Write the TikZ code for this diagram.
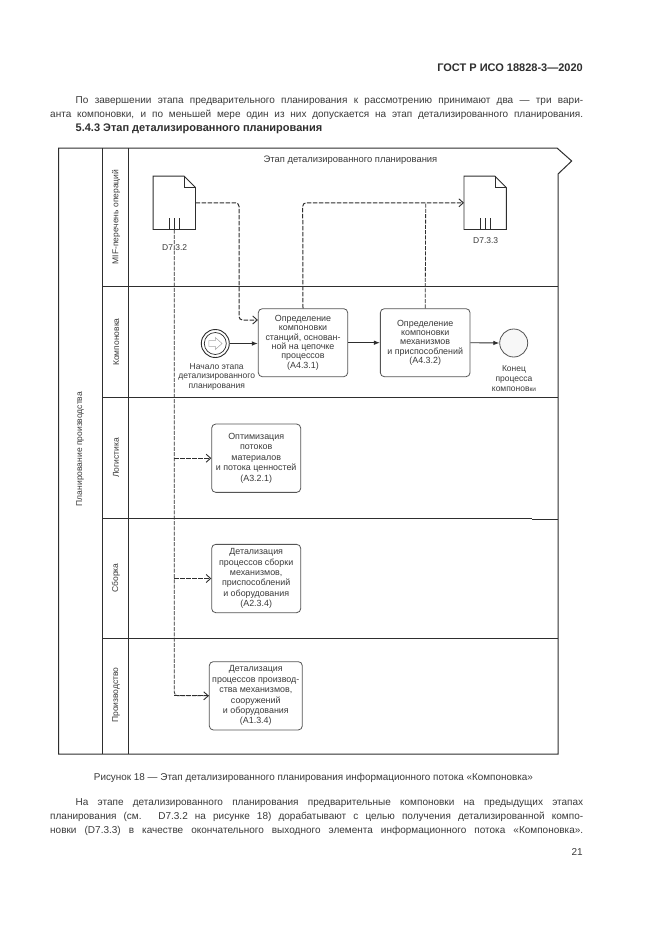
\documentclass[tikz,border=0pt]{standalone}
\usepackage{fontspec}
\setmainfont{Liberation Sans}
\usetikzlibrary{arrows.meta}
\definecolor{ink}{HTML}{2E2E2E}
\definecolor{txt}{HTML}{3A3A3A}
\definecolor{boxline}{HTML}{555555}
\tikzset{
  bodytext/.style={inner sep=0pt,anchor=base west,text=txt,font=\fontsize{10}{11}\selectfont},
  headtext/.style={inner sep=0pt,anchor=base west,text=ink,font=\fontsize{11}{12}\selectfont\bfseries},
  lab/.style={inner sep=0pt,align=center,text=txt,font=\fontsize{8.5}{9.7}\selectfont},
  lanetitle/.style={lab,rotate=90},
  taskbox/.style={draw=boxline,line width=0.8pt,rounded corners=4pt,fill=white,inner sep=0pt,align=center,text=txt,font=\fontsize{8.9}{10.4}\selectfont},
  tasktight/.style={taskbox,font=\fontsize{8.9}{9.4}\selectfont,execute at begin node=\rule{0pt}{12pt}},
  tasklow/.style={taskbox,execute at begin node=\rule{0pt}{11.5pt}},
  docbox/.style={inner sep=0pt,minimum width=42pt,minimum height=53pt},
  docline/.style={draw=ink,line width=0.9pt,fill=white},
  frameline/.style={draw=ink,line width=1pt},
  lanerule/.style={draw=ink,line width=0.9pt},
  flow/.style={draw=ink,line width=1pt,dash pattern=on 4.5pt off 1.5pt,rounded corners=3.5pt,-{Straight Barb[length=4.5pt,width=8pt,line width=0.9pt]}},
  trunk/.style={draw=ink,line width=0.8pt,dash pattern=on 4pt off 1.3pt,rounded corners=3.5pt},
  seq/.style={draw=ink,line width=0.9pt,-{Latex[length=6pt,width=4.5pt]}},
}
\begin{document}
\begin{tikzpicture}[x=1pt,y=-1pt]
\useasboundingbox (0,0) rectangle (661,935);
\fill[white] (0,0) rectangle (661,935);
% page text
\node[headtext,anchor=base east] (hdr) at (583,71) {ГОСТ Р ИСО 18828-3—2020};
\node[bodytext] (p1a) at (75.5,103.3) {\makebox[507.5pt][s]{По завершении этапа предварительного планирования к рассмотрению принимают два — три вари-}};
\node[bodytext] (p1b) at (50,117.3) {\makebox[533pt][s]{анта компоновки, и по меньшей мере один из них допускается на этап детализированного планирования.}};
\node[headtext] (sec) at (75.5,131.5) {5.4.3 Этап детализированного планирования};
\node[bodytext,font=\fontsize{9.9}{11}\selectfont] (cap) at (93.7,780) {Рисунок 18 — Этап детализированного планирования информационного потока «Компоновка»};
\node[bodytext] (p2a) at (75.5,805.5) {\makebox[507.5pt][s]{На этапе детализированного планирования предварительные компоновки на предыдущих этапах}};
\node[bodytext] (p2b) at (50,819.5) {\makebox[533pt][s]{планирования (см. D7.3.2 на рисунке 18) дорабатывают с целью получения детализированной компо-}};
\node[bodytext] (p2c) at (50,833.5) {\makebox[533pt][s]{новки (D7.3.3) в качестве окончательного выходного элемента информационного потока «Компоновка».}};
\node[bodytext,anchor=base east] (pg) at (583,855.5) {21};
% pool
\draw[frameline,line join=miter] (58.5,148) -- (557,148) -- (571.7,161) -- (558,174) -- (558,754) -- (58.5,754) -- cycle;
\draw[frameline] (102.7,148) -- (102.7,754);
\draw[frameline,line width=1.4pt] (128.7,148) -- (128.7,754);
\draw[lanerule] (102.7,286.3) -- (558,286.3);
\draw[lanerule] (102.7,397) -- (532,397);
\draw[lanerule] (532,397.6) -- (558,397.6);
\draw[lanerule] (102.7,518.8) -- (532,518.8);
\draw[lanerule] (532,519.6) -- (558,519.6);
\draw[lanerule] (102.7,638) -- (558,638);
% titles
\node[lanetitle] (pooltitle) at (80,449) {Планирование производства};
\node[lanetitle] (l1) at (116,217) {MIF-перечень операций};
\node[lanetitle] (l2) at (116.3,342) {Компоновка};
\node[lanetitle] (l3) at (116,458) {Логистика};
\node[lanetitle] (l4) at (116,578) {Сборка};
\node[lanetitle] (l5) at (116,695) {Производство};
\node[lab,font=\fontsize{9.4}{10}\selectfont] (stage) at (350.5,160) {Этап детализированного планирования};
% documents
\node[docbox] (d1) at (174.3,202.8) {};
\node[docbox] (d2) at (485.2,202.8) {};
\foreach \d in {d1,d2}{
  \draw[docline,line join=miter] (\d.south west) -- (\d.north west) -- ([xshift=-11.5pt]\d.north east) -- ([yshift=-11.5pt]\d.north east) -- (\d.south east) -- cycle;
  \draw[docline,fill=none,line width=0.7pt] ([xshift=-11.5pt]\d.north east) -- ([xshift=-11.5pt,yshift=-11.5pt]\d.north east) -- ([yshift=-11.5pt]\d.north east);
  \foreach \s in {-5,0,5}
    \draw[draw=ink,line width=0.8pt] ([xshift=\s pt]\d.south) -- ([xshift=\s pt,yshift=12pt]\d.south);
}
\node[lab] (d1lab) at (174.7,248) {D7.3.2};
\node[lab] (d2lab) at (485.7,240.8) {D7.3.3};
% tasks
\node[tasktight,minimum width=89.4pt,minimum height=68pt] (t1) at (303,342.7) {Определение\\компоновки\\станций, основан-\\ной на цепочке\\процессов\\(А4.3.1)};
\node[tasktight,minimum width=89.7pt,minimum height=68pt] (t2) at (425.2,342.7) {Определение\\компоновки\\механизмов\\и приспособлений\\(А4.3.2)};
\node[taskbox,minimum width=89pt,minimum height=68.3pt] (t3) at (256.2,458.2) {Оптимизация\\потоков\\материалов\\и потока ценностей\\(А3.2.1)};
\node[taskbox,minimum width=89pt,minimum height=68.3pt] (t4) at (256.2,578.5) {Детализация\\процессов сборки\\механизмов,\\приспособлений\\и оборудования\\(А2.3.4)};
\node[tasklow,minimum width=93pt,minimum height=68.3pt] (t5) at (255.8,695.8) {Детализация\\процессов производ-\\ства механизмов,\\сооружений\\и оборудования\\(А1.3.4)};
% events
\node[circle,draw=ink,line width=0.9pt,fill=white,minimum size=28pt,inner sep=0pt] (st) at (215.3,343.5) {};
\node[circle,draw=ink,line width=0.7pt,minimum size=22pt,inner sep=0pt] (stinner) at (215.3,343.5) {};
\draw[draw=gray!70,line width=0.5pt,line join=miter] ([shift={(-6.5,-2.8)}]st.center) -- ([shift={(0,-2.8)}]st.center) -- ([shift={(0,-6)}]st.center) -- ([shift={(6.8,0)}]st.center) -- ([shift={(0,6)}]st.center) -- ([shift={(0,2.8)}]st.center) -- ([shift={(-6.5,2.8)}]st.center) -- cycle;
\node[circle,draw=boxline,line width=0.8pt,fill=black!3,minimum size=28pt,inner sep=0pt] (en) at (513.7,343) {};
\node[lab] (stlab) at (216.7,376.7) {Начало этапа\\детализированного\\планирования};
\node[lab] (enlab) at (514,378.8) {Конец\\процесса\\компонов{\fontsize{6.5}{6}\selectfont ки}};
% connectors
\coordinate (t1in) at (258.3,320);
\coordinate (c1a) at (239,202.8);
\coordinate (c1b) at (239,320);
\coordinate (c2a) at (302.7,202.8);
\coordinate (c3a) at (425.7,202.8);
\coordinate (tr1) at (174.3,695.8);
\coordinate (tr3) at (174.3,458.2);
\coordinate (tr4) at (174.3,578.5);
\draw[flow] (d1.east) -- (c1a) -- (c1b) -- (t1.west |- t1in);
\draw[flow] (t1.north) -- (c2a) -- (d2.west);
\draw[trunk] (t2.north) -- (c3a);
\draw[trunk] (d1.south) -- (tr1) -- (t5.west);
\draw[flow] (tr1) -- (t5.west);
\draw[flow] (tr3) -- (t3.west);
\draw[flow] (tr4) -- (t4.west);
\draw[seq] (st.east) -- (t1.west |- st.east);
\draw[seq] (t1.east) -- (t2.west);
\draw[seq] (t2.east) -- (en.west);
\end{tikzpicture}
\end{document}
